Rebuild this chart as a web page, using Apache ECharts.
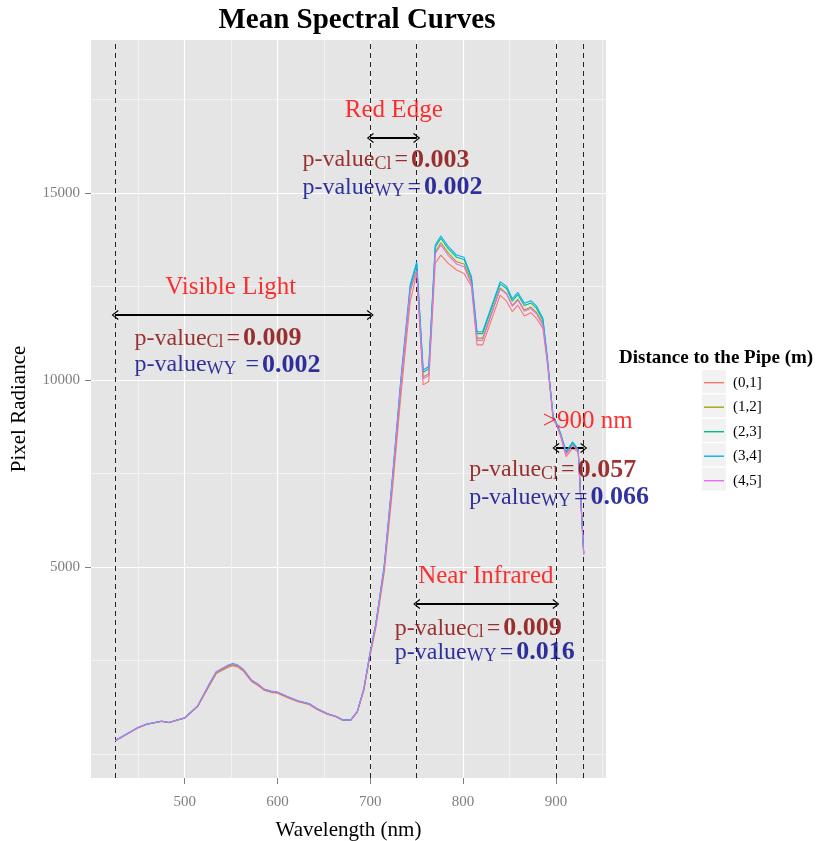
<!DOCTYPE html>
<html><head><meta charset="utf-8">
<script src="https://cdn.jsdelivr.net/npm/echarts@6/dist/echarts.min.js"></script>
<style>html,body{margin:0;padding:0;background:#fff}#c{width:822px;height:841px}</style>
</head><body><div id="c"></div>
<script>
const FONT = '"Liberation Serif", "DejaVu Serif", serif';

const wavelengths = [425,450,459,475,483,491,500,514,527,534,539,547,552,557,563,572,579,586,593,600,611,622,634,643,654,663,670,679,686,693,700,706,715,724,733,743,750,757,763,770,776,784,793,801,809,815,821,840,847,853,859,866,873,879,886,891,897,900,905,911,918,924,930];

const s01 = [350,705,790,870,835,895,960,1270,1850,2150,2220,2320,2360,2330,2220,1940,1830,1700,1650,1625,1505,1400,1325,1185,1060,995,905,905,1120,1700,2650,3380,4850,7100,9600,12100,12850,9870,9960,13120,13340,13120,12940,12850,12500,10940,10940,12270,12100,11830,12000,11710,11800,11650,11380,10400,8950,8820,8500,7950,8170,8080,5330];
const s12 = [355,710,795,875,840,900,965,1280,1870,2170,2240,2345,2385,2350,2240,1955,1850,1715,1665,1640,1520,1410,1335,1195,1070,1000,910,910,1130,1720,2700,3440,4950,7300,9880,12370,12960,10080,10170,13420,13670,13400,13160,13100,12620,11120,11120,12460,12310,11990,12160,11870,11950,11810,11510,10480,9000,8860,8550,8030,8270,8120,5350];
const s23 = [358,713,798,878,843,903,968,1285,1890,2190,2260,2370,2410,2370,2260,1972,1862,1724,1680,1650,1530,1420,1345,1205,1076,1006,917,912,1136,1740,2730,3480,5010,7390,9980,12480,13100,10210,10300,13550,13790,13510,13280,13220,12710,11240,11240,12570,12440,12110,12280,11990,12060,11920,11600,10530,9020,8880,8570,8070,8320,8140,5360];
const s34 = [360,715,800,880,845,905,970,1290,1900,2200,2270,2380,2420,2380,2270,1980,1870,1730,1685,1655,1535,1425,1350,1210,1080,1010,920,915,1140,1750,2750,3500,5050,7450,10050,12550,13160,10270,10360,13610,13850,13570,13340,13280,12760,11290,11290,12630,12500,12170,12340,12050,12120,11980,11650,10550,9030,8890,8580,8090,8350,8150,5370];
const s45 = [358,712,797,877,842,902,966,1287,1895,2195,2265,2372,2410,2372,2262,1975,1865,1726,1680,1650,1530,1420,1345,1205,1077,1006,916,912,1135,1740,2720,3460,4990,7370,9930,12390,12930,10030,10120,13380,13610,13330,13100,13030,12560,11060,11060,12430,12290,11970,12130,11840,11910,11770,11460,10470,8990,8850,8540,8010,8250,8110,5345];

const seriesNames = ['(0,1]','(1,2]','(2,3]','(3,4]','(4,5]'];
const seriesColors = ['#F8766D','#A3A500','#00BF7D','#00B0F6','#E76BF3'];

const xMajorTicks = [500,600,700,800,900];
const xMinorTicks = [450,550,650,750,850,950];
const yMajorTicks = [5000,10000,15000];
const yMinorTicks = [0,2500,7500,12500,17500];

// annotation data (wavelength / radiance units)
const regionBounds = [425,700,750,900,900,930];
const arrowFrom = [425,700,750,900];
const arrowTo = [700,750,900,930];
const arrowY = [11740,16470,4010,8180];
const regionNames = ['Visible Light','Red Edge','Near Infrared','>900 nm'];
const nameX = [549.6,725.3,824.5,934.3];
const nameY = [12488,17220,4760,8886];
const pCl = ['0.009','0.003','0.009','0.057'];
const pWY = ['0.002','0.002','0.016','0.066'];
const pWYsep = [' ','','',''];
const pX = [446,626.9,726.4,806.5];
const pClY = [11116,15884,3361,7594];
const pWYY = [10402,15140,2720,6860];

const valueSets = [s01,s12,s23,s34,s45];
const lineSeries = seriesNames.map((name,i)=>({
  name, type:'line', xAxisIndex:0, yAxisIndex:0,
  data: wavelengths.map((w,j)=>[w, valueSets[i][j]]),
  showSymbol:false, symbol:'none', silent:true,
  lineStyle:{width:1.1,color:seriesColors[i]}, itemStyle:{color:seriesColors[i]}, z:3+i
}));

const arrowPath = 'path://M5,0L10,7L9,7.8L5,1.9L1,7.8L0,7Z';

const richStyles = {
  rn:{color:'#850000',fontSize:24,fontFamily:FONT},
  rs:{color:'#850000',fontSize:18,fontFamily:FONT,verticalAlign:'bottom'},
  re:{color:'#850000',fontSize:24,fontFamily:FONT,padding:[0,3,0,3]},
  rb:{color:'#850000',fontSize:26,fontWeight:'bold',fontFamily:FONT},
  bn:{color:'#000088',fontSize:24,fontFamily:FONT},
  bs:{color:'#000088',fontSize:18,fontFamily:FONT,verticalAlign:'bottom'},
  be:{color:'#000088',fontSize:24,fontFamily:FONT,padding:[0,3,0,3]},
  bb:{color:'#000088',fontSize:26,fontWeight:'bold',fontFamily:FONT}
};

const extraSeries = [
  {type:'line', data:[], silent:true, z:2,
   markLine:{silent:true, animation:false, symbol:['none','none'], label:{show:false},
     lineStyle:{type:[5,4],color:'#222',width:1},
     data: regionBounds.map(v=>({xAxis:v}))}},
  {type:'line', data:[], silent:true, z:10,
   markLine:{silent:true, animation:false, symbol:[arrowPath,arrowPath], symbolSize:[10,7], label:{show:false},
     lineStyle:{type:'solid',color:'#000',width:2},
     data: arrowFrom.map((a,i)=>[{coord:[a,arrowY[i]]},{coord:[arrowTo[i],arrowY[i]]}])}},
  {type:'scatter', symbolSize:0, silent:true, z:12,
   data: regionNames.map((n,i)=>({value:[nameX[i],nameY[i]], label:{formatter:n}})),
   label:{show:true, position:'inside', align:'center', verticalAlign:'middle', color:'#FF0000', fontSize:25, fontFamily:FONT}},
  {type:'scatter', symbolSize:0, silent:true, z:12,
   data: pCl.map((v,i)=>({value:[pX[i],pClY[i]], label:{formatter:'{rn|p-value}{rs|Cl}{re|=}{rb|'+v+'}'}})),
   label:{show:true, position:'inside', align:'left', verticalAlign:'middle', rich:richStyles}},
  {type:'scatter', symbolSize:0, silent:true, z:12,
   data: pWY.map((v,i)=>({value:[pX[i],pWYY[i]], label:{formatter:'{bn|p-value}{bs|WY}{be|'+pWYsep[i]+'=}{bb|'+v+'}'}})),
   label:{show:true, position:'inside', align:'left', verticalAlign:'middle', rich:richStyles}}
];

const chart = echarts.init(document.getElementById('c'), null, {renderer:'canvas'});
const axisLabelStyle = {color:'#7F7F7F', fontSize:15, fontFamily:FONT, formatter:(v)=>String(v)};
chart.setOption({
  animation:false,
  backgroundColor:'#fff',
  grid:{left:91, right:216, top:40, bottom:63, show:true, backgroundColor:'#E5E5E5', borderWidth:0, containLabel:false, outerBoundsMode:'none'},
  xAxis:[
    {type:'value', min:399, max:954, position:'bottom',
     name:'Wavelength (nm)', nameLocation:'middle', nameGap:42,
     nameTextStyle:{fontFamily:FONT, fontSize:21, color:'#000'},
     axisLine:{show:false, onZero:false},
     axisTick:{show:true, length:6, customValues:xMajorTicks, lineStyle:{color:'#7F7F7F', width:1}},
     axisLabel:{customValues:xMajorTicks, margin:17, ...axisLabelStyle},
     splitLine:{show:true, customValues:xMajorTicks, lineStyle:{color:'#FFFFFF', width:1.2}}},
    {type:'value', min:399, max:954, position:'bottom',
     axisLine:{show:false, onZero:false}, axisLabel:{show:false},
     axisTick:{show:false, customValues:xMinorTicks},
     splitLine:{show:true, customValues:xMinorTicks, lineStyle:{color:'#F2F2F2', width:1}}}
  ],
  yAxis:[
    {type:'value', min:-640, max:19090, position:'left',
     name:'Pixel Radiance', nameLocation:'middle', nameGap:61, nameRotate:90,
     nameTextStyle:{fontFamily:FONT, fontSize:21, color:'#000'},
     axisLine:{show:false, onZero:false},
     axisTick:{show:true, length:6, customValues:yMajorTicks, lineStyle:{color:'#7F7F7F', width:1}},
     axisLabel:{customValues:yMajorTicks, margin:11, ...axisLabelStyle},
     splitLine:{show:true, customValues:yMajorTicks, lineStyle:{color:'#FFFFFF', width:1.2}}},
    {type:'value', min:-640, max:19090, position:'left',
     axisLine:{show:false, onZero:false}, axisLabel:{show:false},
     axisTick:{show:false, customValues:yMinorTicks},
     splitLine:{show:true, customValues:yMinorTicks, lineStyle:{color:'#F2F2F2', width:1}}}
  ],
  legend:{orient:'vertical', left:704, top:374.7, padding:0, itemWidth:20, itemHeight:1.4, itemGap:8.5, icon:'rect',
    textStyle:{fontFamily:FONT, fontSize:15, color:'#000', lineHeight:16, padding:[0,0,0,4]},
    data:seriesNames, selectedMode:false, z:6},
  graphic:[
    ...seriesNames.map((n,i)=>({type:'rect', z:1, silent:true, shape:{x:702, y:370+i*24.4, width:24, height:23}, style:{fill:'#F2F2F2'}})),
    {type:'text', z:1, silent:true, x:619, y:358, style:{text:'Distance to the Pipe (m)', font:'bold 19px '+FONT, fill:'#000', align:'left', textAlign:'left', verticalAlign:'middle', textVerticalAlign:'middle'}},
    {type:'text', z:1, silent:true, x:357, y:21, style:{text:'Mean Spectral Curves', font:'bold 29px '+FONT, fill:'#000', align:'center', textAlign:'center', verticalAlign:'middle', textVerticalAlign:'middle'}}
  ],
  series:[...lineSeries, ...extraSeries]
});
</script></body></html>
